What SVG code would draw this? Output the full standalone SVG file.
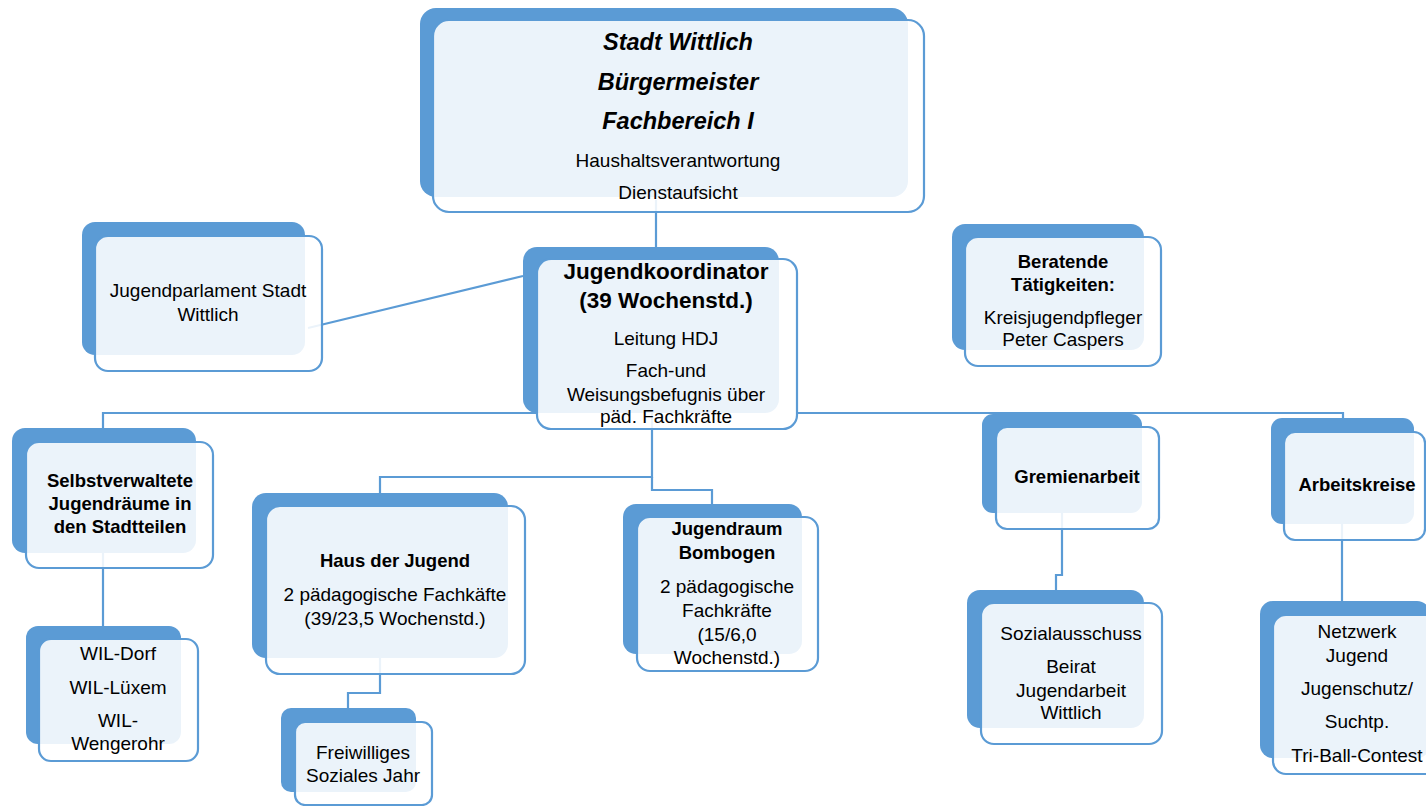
<svg xmlns="http://www.w3.org/2000/svg" width="1426" height="806" viewBox="0 0 1426 806">
<style>
.bk{fill:#5b9bd5}
.fr{fill:#ffffff;fill-opacity:0.88;stroke:#5b9bd5;stroke-width:2.2}
.cn{fill:none;stroke:#5b9bd5;stroke-width:2.2}
text{font-family:"Liberation Sans",Arial,sans-serif;fill:#000;text-anchor:middle}
.r{font-size:19px}
.b{font-size:18.5px;font-weight:bold}
.bl{font-size:22.5px;font-weight:bold}
.bi{font-size:23.5px;font-weight:bold;font-style:italic}
</style>
<rect width="1426" height="806" fill="#ffffff"/>
<g id="connectors">
<path class="cn" d="M656,200 V247"/>
<path class="cn" d="M308,328 L523,276"/>
<path class="cn" d="M103,428 V413 H537"/>
<path class="cn" d="M797,413 H1343 V418"/>
<path class="cn" d="M1062,513 V575 H1056 V590"/>
<path class="cn" d="M1342,524 V601"/>
<path class="cn" d="M652,413 V477 H380 V493"/>
<path class="cn" d="M652,477 V490 H712 V504"/>
<path class="cn" d="M103,553 V626"/>
<path class="cn" d="M380,658 V693 H348 V708"/>
</g>
<g id="stadt">
<rect class="bk" x="420" y="8" width="488" height="189" rx="16"/>
<rect class="fr" x="433" y="20" width="491" height="192" rx="16"/>
<text class="bi" x="678" y="50">Stadt Wittlich</text>
<text class="bi" x="678" y="90">Bürgermeister</text>
<text class="bi" x="678" y="129">Fachbereich I</text>
<text class="r" x="678" y="167">Haushaltsverantwortung</text>
<text class="r" x="678" y="199">Dienstaufsicht</text>
</g>
<g id="jugendparlament">
<rect class="bk" x="82" y="222" width="223" height="133" rx="13"/>
<rect class="fr" x="95" y="236" width="227" height="135" rx="13"/>
<text class="r" x="208" y="297">Jugendparlament Stadt</text>
<text class="r" x="208" y="321">Wittlich</text>
</g>
<g id="jugendkoordinator">
<rect class="bk" x="523" y="247" width="256" height="166" rx="14"/>
<rect class="fr" x="537" y="259" width="260" height="170" rx="14"/>
<text class="bl" x="666" y="279">Jugendkoordinator</text>
<text class="bl" x="666" y="308">(39 Wochenstd.)</text>
<text class="r" x="666" y="345">Leitung HDJ</text>
<text class="r" x="666" y="377">Fach-und</text>
<text class="r" x="666" y="401">Weisungsbefugnis über</text>
<text class="r" x="666" y="423">päd. Fachkräfte</text>
</g>
<g id="beratende">
<rect class="bk" x="952" y="224" width="192" height="126" rx="13"/>
<rect class="fr" x="965" y="237" width="196" height="129" rx="13"/>
<text class="b" x="1063" y="268">Beratende</text>
<text class="b" x="1063" y="291">Tätigkeiten:</text>
<text class="r" x="1063" y="324">Kreisjugendpfleger</text>
<text class="r" x="1063" y="346">Peter Caspers</text>
</g>
<g id="selbstverwaltete">
<rect class="bk" x="12" y="428" width="184" height="125" rx="13"/>
<rect class="fr" x="26" y="442" width="187" height="126" rx="13"/>
<text class="b" x="120" y="487">Selbstverwaltete</text>
<text class="b" x="120" y="510">Jugendräume in</text>
<text class="b" x="120" y="533">den Stadtteilen</text>
</g>
<g id="wil">
<rect class="bk" x="26" y="626" width="155" height="118" rx="12"/>
<rect class="fr" x="39" y="639" width="159" height="122" rx="12"/>
<text class="r" x="118" y="660">WIL-Dorf</text>
<text class="r" x="118" y="694">WIL-Lüxem</text>
<text class="r" x="118" y="727">WIL-</text>
<text class="r" x="118" y="750">Wengerohr</text>
</g>
<g id="haus">
<rect class="bk" x="252" y="493" width="256" height="165" rx="14"/>
<rect class="fr" x="266" y="506" width="259" height="168" rx="14"/>
<text class="b" x="395" y="567">Haus der Jugend</text>
<text class="r" x="395" y="601">2 pädagogische Fachkäfte</text>
<text class="r" x="395" y="625">(39/23,5 Wochenstd.)</text>
</g>
<g id="freiwilliges">
<rect class="bk" x="281" y="708" width="135" height="84" rx="10"/>
<rect class="fr" x="295" y="722" width="137" height="83" rx="10"/>
<text class="r" x="363" y="759">Freiwilliges</text>
<text class="r" x="363" y="782">Soziales Jahr</text>
</g>
<g id="bombogen">
<rect class="bk" x="623" y="504" width="179" height="150" rx="13"/>
<rect class="fr" x="637" y="517" width="181" height="154" rx="13"/>
<text class="b" x="727" y="535">Jugendraum</text>
<text class="b" x="727" y="559">Bombogen</text>
<text class="r" x="727" y="593">2 pädagogische</text>
<text class="r" x="727" y="617">Fachkräfte</text>
<text class="r" x="727" y="641">(15/6,0</text>
<text class="r" x="727" y="664">Wochenstd.)</text>
</g>
<g id="gremienarbeit">
<rect class="bk" x="982" y="414" width="160" height="99" rx="11"/>
<rect class="fr" x="996" y="427" width="163" height="102" rx="11"/>
<text class="b" x="1077" y="483">Gremienarbeit</text>
</g>
<g id="sozialausschuss">
<rect class="bk" x="967" y="590" width="177" height="138" rx="13"/>
<rect class="fr" x="981" y="603" width="181" height="141" rx="13"/>
<text class="r" x="1071" y="640">Sozialausschuss</text>
<text class="r" x="1071" y="673">Beirat</text>
<text class="r" x="1071" y="697">Jugendarbeit</text>
<text class="r" x="1071" y="719">Wittlich</text>
</g>
<g id="arbeitskreise">
<rect class="bk" x="1271" y="418" width="143" height="106" rx="11"/>
<rect class="fr" x="1284" y="432" width="141" height="108" rx="11"/>
<text class="b" x="1357" y="491">Arbeitskreise</text>
</g>
<g id="netzwerk">
<rect class="bk" x="1260" y="601" width="170" height="157" rx="13"/>
<rect class="fr" x="1273" y="615" width="170" height="159" rx="13"/>
<text class="r" x="1357" y="638">Netzwerk</text>
<text class="r" x="1357" y="662">Jugend</text>
<text class="r" x="1357" y="695">Jugenschutz/</text>
<text class="r" x="1357" y="728">Suchtp.</text>
<text class="r" x="1357" y="762">Tri-Ball-Contest</text>
</g>
</svg>
